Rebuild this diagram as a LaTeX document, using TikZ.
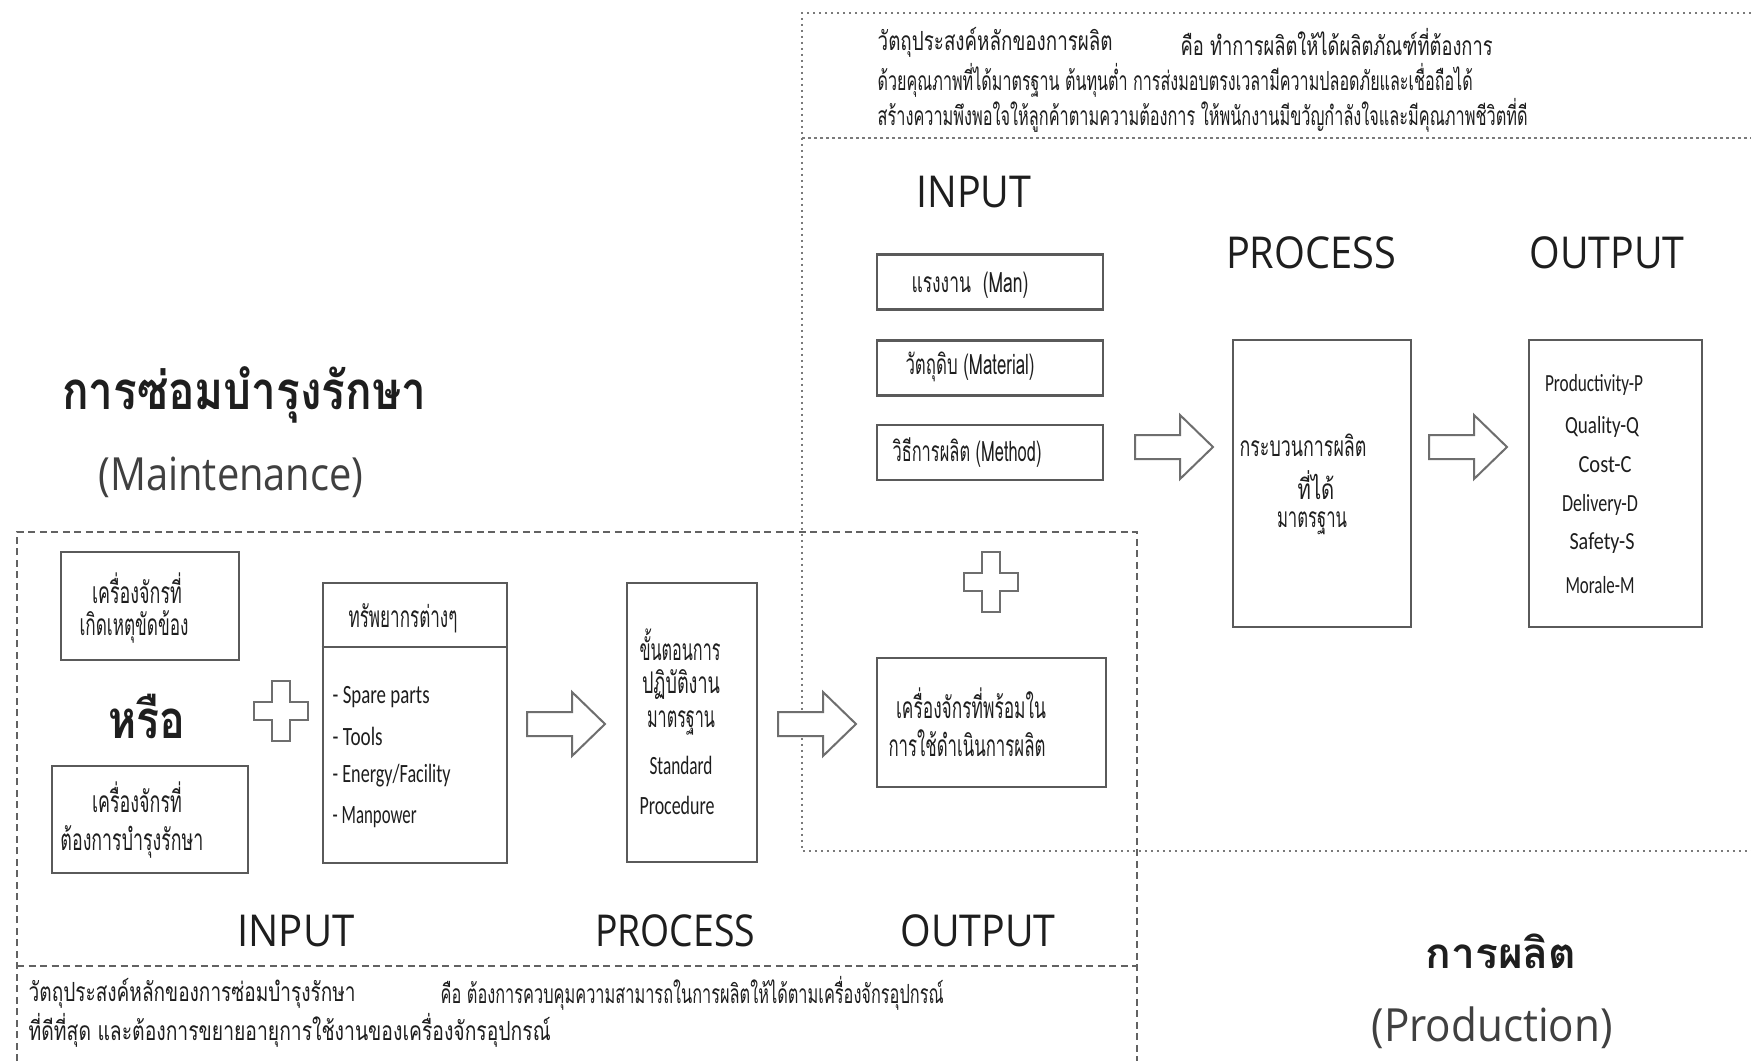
\documentclass[tikz,border=0pt]{standalone}
\usepackage{fontspec}
\usepackage{graphicx}
\newfontfamily\thai[Script=Thai]{Loma}
\newfontfamily\lab{Open Sans}
\newfontfamily\narrowfam{Carlito}
\usetikzlibrary{calc}
\definecolor{edge}{HTML}{5A5A5A}
\definecolor{soft}{HTML}{6E6E6E}
\definecolor{ink}{HTML}{1E1E1E}
\definecolor{frame}{HTML}{7A7A7A}
% squeeze a text to a given width, keeping its height
\newcommand\fw[2]{\resizebox{#1}{\height}{#2}}
\tikzset{
  box/.style={draw=edge, line width=0.28mm, fill=white, inner sep=0pt},
  txt/.style={inner sep=0pt, text=ink},
  shapeline/.style={draw=soft, line width=0.2mm, fill=white, line join=miter},
  prodframe/.style={draw=frame, line width=0.15mm, dash pattern=on 0.25mm off 0.35mm},
  mainframe/.style={draw=frame!80!black, line width=0.18mm, dash pattern=on 0.7mm off 0.45mm},
  blockarrow/.pic={\path[shapeline] (0,-12) -- (45,-12) -- (45,-32) -- (78,0) -- (45,32) -- (45,12) -- (0,12) -- cycle;},
  plussign/.pic={\path[shapeline] (-9,-30) -- (9,-30) -- (9,-9) -- (27,-9) -- (27,9) -- (9,9) -- (9,30) -- (-9,30) -- (-9,9) -- (-27,9) -- (-27,-9) -- (-9,-9) -- cycle;}
}
\begin{document}
\begin{tikzpicture}[x=0.1mm, y=-0.1mm]
\useasboundingbox[fill=white] (0,0) rectangle (1751,1061);

% ---------- production frame ----------
\coordinate (pA) at (802,13);
\coordinate (pB) at (1751,13);
\coordinate (pC) at (802,138);
\coordinate (pD) at (1751,138);
\coordinate (pE) at (802,851);
\coordinate (pF) at (1751,851);
\draw[prodframe] (pB) -- (pA) -- (pE) -- (pF);
\draw[prodframe] (pC) -- (pD);

% ---------- maintenance frame ----------
\coordinate (mA) at (17,532);
\coordinate (mB) at (1137,532);
\coordinate (mC) at (17,1061);
\coordinate (mD) at (1137,1061);
\coordinate (mE) at (17,966);
\coordinate (mF) at (1137,966);
\draw[mainframe] (mC) -- (mA) -- (mB) -- (mD);
\draw[mainframe] (mE) -- (mF);

% ---------- production objective ----------
\node[txt, anchor=west, font=\thai\fontsize{7.5}{9}\selectfont] (pd1a) at (877,42) {\fw{23.5mm}{วัตถุประสงค์หลักของการผลิต}};
\node[txt, anchor=west, font=\thai\fontsize{7.5}{9}\selectfont] (pd1b) at (1180,42) {\fw{31.2mm}{คือ ทำการผลิตให้ได้ผลิตภัณฑ์ที่ต้องการ}};
\node[txt, anchor=west, font=\thai\fontsize{7.5}{9}\selectfont] (pd2) at (877,80) {\fw{59.5mm}{ด้วยคุณภาพที่ได้มาตรฐาน ต้นทุนต่ำ การส่งมอบตรงเวลามีความปลอดภัยและเชื่อถือได้}};
\node[txt, anchor=west, font=\thai\fontsize{7.5}{9}\selectfont] (pd3) at (877,115) {\fw{65.0mm}{สร้างความพึงพอใจให้ลูกค้าตามความต้องการ ให้พนักงานมีขวัญกำลังใจและมีคุณภาพชีวิตที่ดี}};

% ---------- production headings ----------
\node[txt, font=\lab\fontsize{12.5}{14}\selectfont] (pin) at (974,192) {\fw{11.5mm}{INPUT}};
\node[txt, font=\lab\fontsize{12.5}{14}\selectfont] (pproc) at (1311,253) {\fw{17.0mm}{PROCESS}};
\node[txt, font=\lab\fontsize{12.5}{14}\selectfont] (pout) at (1607,253) {\fw{15.5mm}{OUTPUT}};

% ---------- production inputs ----------
\node[box, minimum width=22.6mm, minimum height=5.5mm] (man) at (990,282) {};
\node[box, minimum width=22.6mm, minimum height=5.5mm] (mat) at (990,368) {};
\node[box, minimum width=22.6mm, minimum height=5.5mm] (meth) at (990,452.5) {};
\node[txt, font=\thai\fontsize{8}{9}\selectfont] (mant) at (970,285) {\fw{11.7mm}{แรงงาน \ (Man)}};
\node[txt, font=\thai\fontsize{8}{9}\selectfont] (matt) at (970,367) {\fw{12.9mm}{วัตถุดิบ (Material)}};
\node[txt, font=\thai\fontsize{8}{9}\selectfont] (metht) at (967,453) {\fw{14.9mm}{วิธีการผลิต (Method)}};

\pic at (1135,447) {blockarrow};

% ---------- production process ----------
\node[box, minimum width=17.8mm, minimum height=28.7mm] (proc) at (1322,483.5) {};
\node[txt, font=\thai\fontsize{8}{9}\selectfont] (proc1) at (1303,445) {\fw{12.7mm}{กระบวนการผลิต}};
\node[txt, font=\thai\fontsize{8}{9}\selectfont] (proc2) at (1316,485) {\scalebox{0.72}[1]{ที่ได้}};
\node[txt, font=\thai\fontsize{8}{9}\selectfont] (proc3) at (1312,523) {\fw{7.0mm}{มาตรฐาน}};

\pic at (1429,447) {blockarrow};

% ---------- production output ----------
\node[box, minimum width=17.3mm, minimum height=28.7mm] (outb) at (1615.5,483.5) {};
\node[txt, font=\narrowfam\fontsize{7}{8}\selectfont] (oP) at (1594,385) {\fw{9.8mm}{Productivity-P}};
\node[txt, font=\narrowfam\fontsize{7}{8}\selectfont] (oQ) at (1602,427) {\fw{7.4mm}{Quality-Q}};
\node[txt, font=\narrowfam\fontsize{7}{8}\selectfont] (oC) at (1605,465) {\fw{5.3mm}{Cost-C}};
\node[txt, font=\narrowfam\fontsize{7}{8}\selectfont] (oD) at (1600,505) {\fw{7.6mm}{Delivery-D}};
\node[txt, font=\narrowfam\fontsize{7}{8}\selectfont] (oS) at (1602,543) {\fw{6.5mm}{Safety-S}};
\node[txt, font=\narrowfam\fontsize{7}{8}\selectfont] (oM) at (1600,585) {\fw{6.9mm}{Morale-M}};

% ---------- shared machine ----------
\pic at (991,582) {plussign};
\node[box, minimum width=22.9mm, minimum height=12.9mm] (ready) at (991.5,722.5) {};
\node[txt, font=\thai\fontsize{8.5}{10}\selectfont] (ready1) at (971,703) {\fw{15.0mm}{เครื่องจักรที่พร้อมใน}};
\node[txt, font=\thai\fontsize{8.5}{10}\selectfont] (ready2) at (967,743) {\fw{15.7mm}{การใช้ดำเนินการผลิต}};

% ---------- maintenance title ----------
\node[txt, font=\thai\bfseries\fontsize{15}{17}\selectfont] (mtitle) at (244,395) {\fw{36.4mm}{การซ่อมบำรุงรักษา}};
\node[txt, font=\lab\fontsize{13}{15}\selectfont, text=ink!85] (mtitleen) at (231,477) {\fw{26.5mm}{(Maintenance)}};

% ---------- maintenance inputs ----------
\node[box, minimum width=17.8mm, minimum height=10.8mm] (brk) at (150,606) {};
\node[txt, font=\thai\fontsize{8.5}{10}\selectfont] (brk1) at (137,588) {\fw{9.0mm}{เครื่องจักรที่}};
\node[txt, font=\thai\fontsize{8.5}{10}\selectfont] (brk2) at (134,627) {\fw{10.9mm}{เกิดเหตุขัดข้อง}};
\node[txt, font=\thai\bfseries\fontsize{15}{17}\selectfont] (orw) at (147,716) {\fw{7.7mm}{หรือ}};
\node[box, minimum width=19.6mm, minimum height=10.7mm] (pm) at (150,819.5) {};
\node[txt, font=\thai\fontsize{8.5}{10}\selectfont] (pm1) at (137,797) {\fw{9.0mm}{เครื่องจักรที่}};
\node[txt, font=\thai\fontsize{8.5}{10}\selectfont] (pm2) at (132,842) {\fw{14.3mm}{ต้องการบำรุงรักษา}};

\pic at (281,711) {plussign};

% ---------- resources ----------
\node[box, minimum width=18.4mm, minimum height=28.0mm] (res) at (415,723) {};
\coordinate (hdiv) at (0,647);
\draw[edge, line width=0.28mm] (res.west |- hdiv) -- (res.east |- hdiv);
\node[txt, font=\thai\fontsize{8.5}{10}\selectfont] (resh) at (403,618) {\fw{10.9mm}{ทรัพยากรต่างๆ}};
\node[txt, anchor=west, font=\narrowfam\fontsize{7.5}{9}\selectfont] (r1) at (332,697) {\fw{9.7mm}{- Spare parts}};
\node[txt, anchor=west, font=\narrowfam\fontsize{7.5}{9}\selectfont] (r2) at (332,736) {\fw{5.0mm}{- Tools}};
\node[txt, anchor=west, font=\narrowfam\fontsize{7.5}{9}\selectfont] (r3) at (332,776) {\fw{11.8mm}{- Energy/Facility}};
\node[txt, anchor=west, font=\narrowfam\fontsize{7.5}{9}\selectfont] (r4) at (332,817) {\fw{8.4mm}{- Manpower}};

\pic at (527,724) {blockarrow};

% ---------- standard procedure ----------
\node[box, minimum width=13.0mm, minimum height=27.9mm] (sop) at (692,722.5) {};
\node[txt, font=\thai\fontsize{8.5}{10}\selectfont] (sop1) at (680,645) {\fw{8.1mm}{ขั้นตอนการ}};
\node[txt, font=\thai\fontsize{8.5}{10}\selectfont] (sop2) at (681,685) {\fw{7.8mm}{ปฏิบัติงาน}};
\node[txt, font=\thai\fontsize{8.5}{10}\selectfont] (sop3) at (681,723) {\fw{6.8mm}{มาตรฐาน}};
\node[txt, font=\narrowfam\fontsize{7.5}{9}\selectfont] (sop4) at (681,765) {\fw{6.3mm}{Standard}};
\node[txt, font=\narrowfam\fontsize{7.5}{9}\selectfont] (sop5) at (677,805) {\fw{7.5mm}{Procedure}};

\pic at (778,724) {blockarrow};

% ---------- maintenance headings ----------
\node[txt, font=\lab\fontsize{12.5}{14}\selectfont] (min) at (296,931) {\fw{11.7mm}{INPUT}};
\node[txt, font=\lab\fontsize{12.5}{14}\selectfont] (mproc) at (675,931) {\fw{16.0mm}{PROCESS}};
\node[txt, font=\lab\fontsize{12.5}{14}\selectfont] (mout) at (978,931) {\fw{15.5mm}{OUTPUT}};

% ---------- maintenance objective ----------
\node[txt, anchor=west, font=\thai\fontsize{7.5}{9}\selectfont] (md1a) at (28,993) {\fw{32.7mm}{วัตถุประสงค์หลักของการซ่อมบำรุงรักษา}};
\node[txt, anchor=west, font=\thai\fontsize{7.5}{9}\selectfont] (md1b) at (440,993) {\fw{50.3mm}{คือ ต้องการควบคุมความสามารถในการผลิตให้ได้ตามเครื่องจักรอุปกรณ์}};
\node[txt, anchor=west, font=\thai\fontsize{7.5}{9}\selectfont] (md2) at (28,1030) {\fw{52.2mm}{ที่ดีที่สุด และต้องการขยายอายุการใช้งานของเครื่องจักรอุปกรณ์}};

% ---------- production title ----------
\node[txt, font=\thai\bfseries\fontsize{12}{14}\selectfont] (ptitle) at (1501,951) {\fw{15.1mm}{การผลิต}};
\node[txt, font=\lab\fontsize{13}{15}\selectfont, text=ink!85] (ptitleen) at (1492,1028) {\fw{24.1mm}{(Production)}};
\end{tikzpicture}
\end{document}
